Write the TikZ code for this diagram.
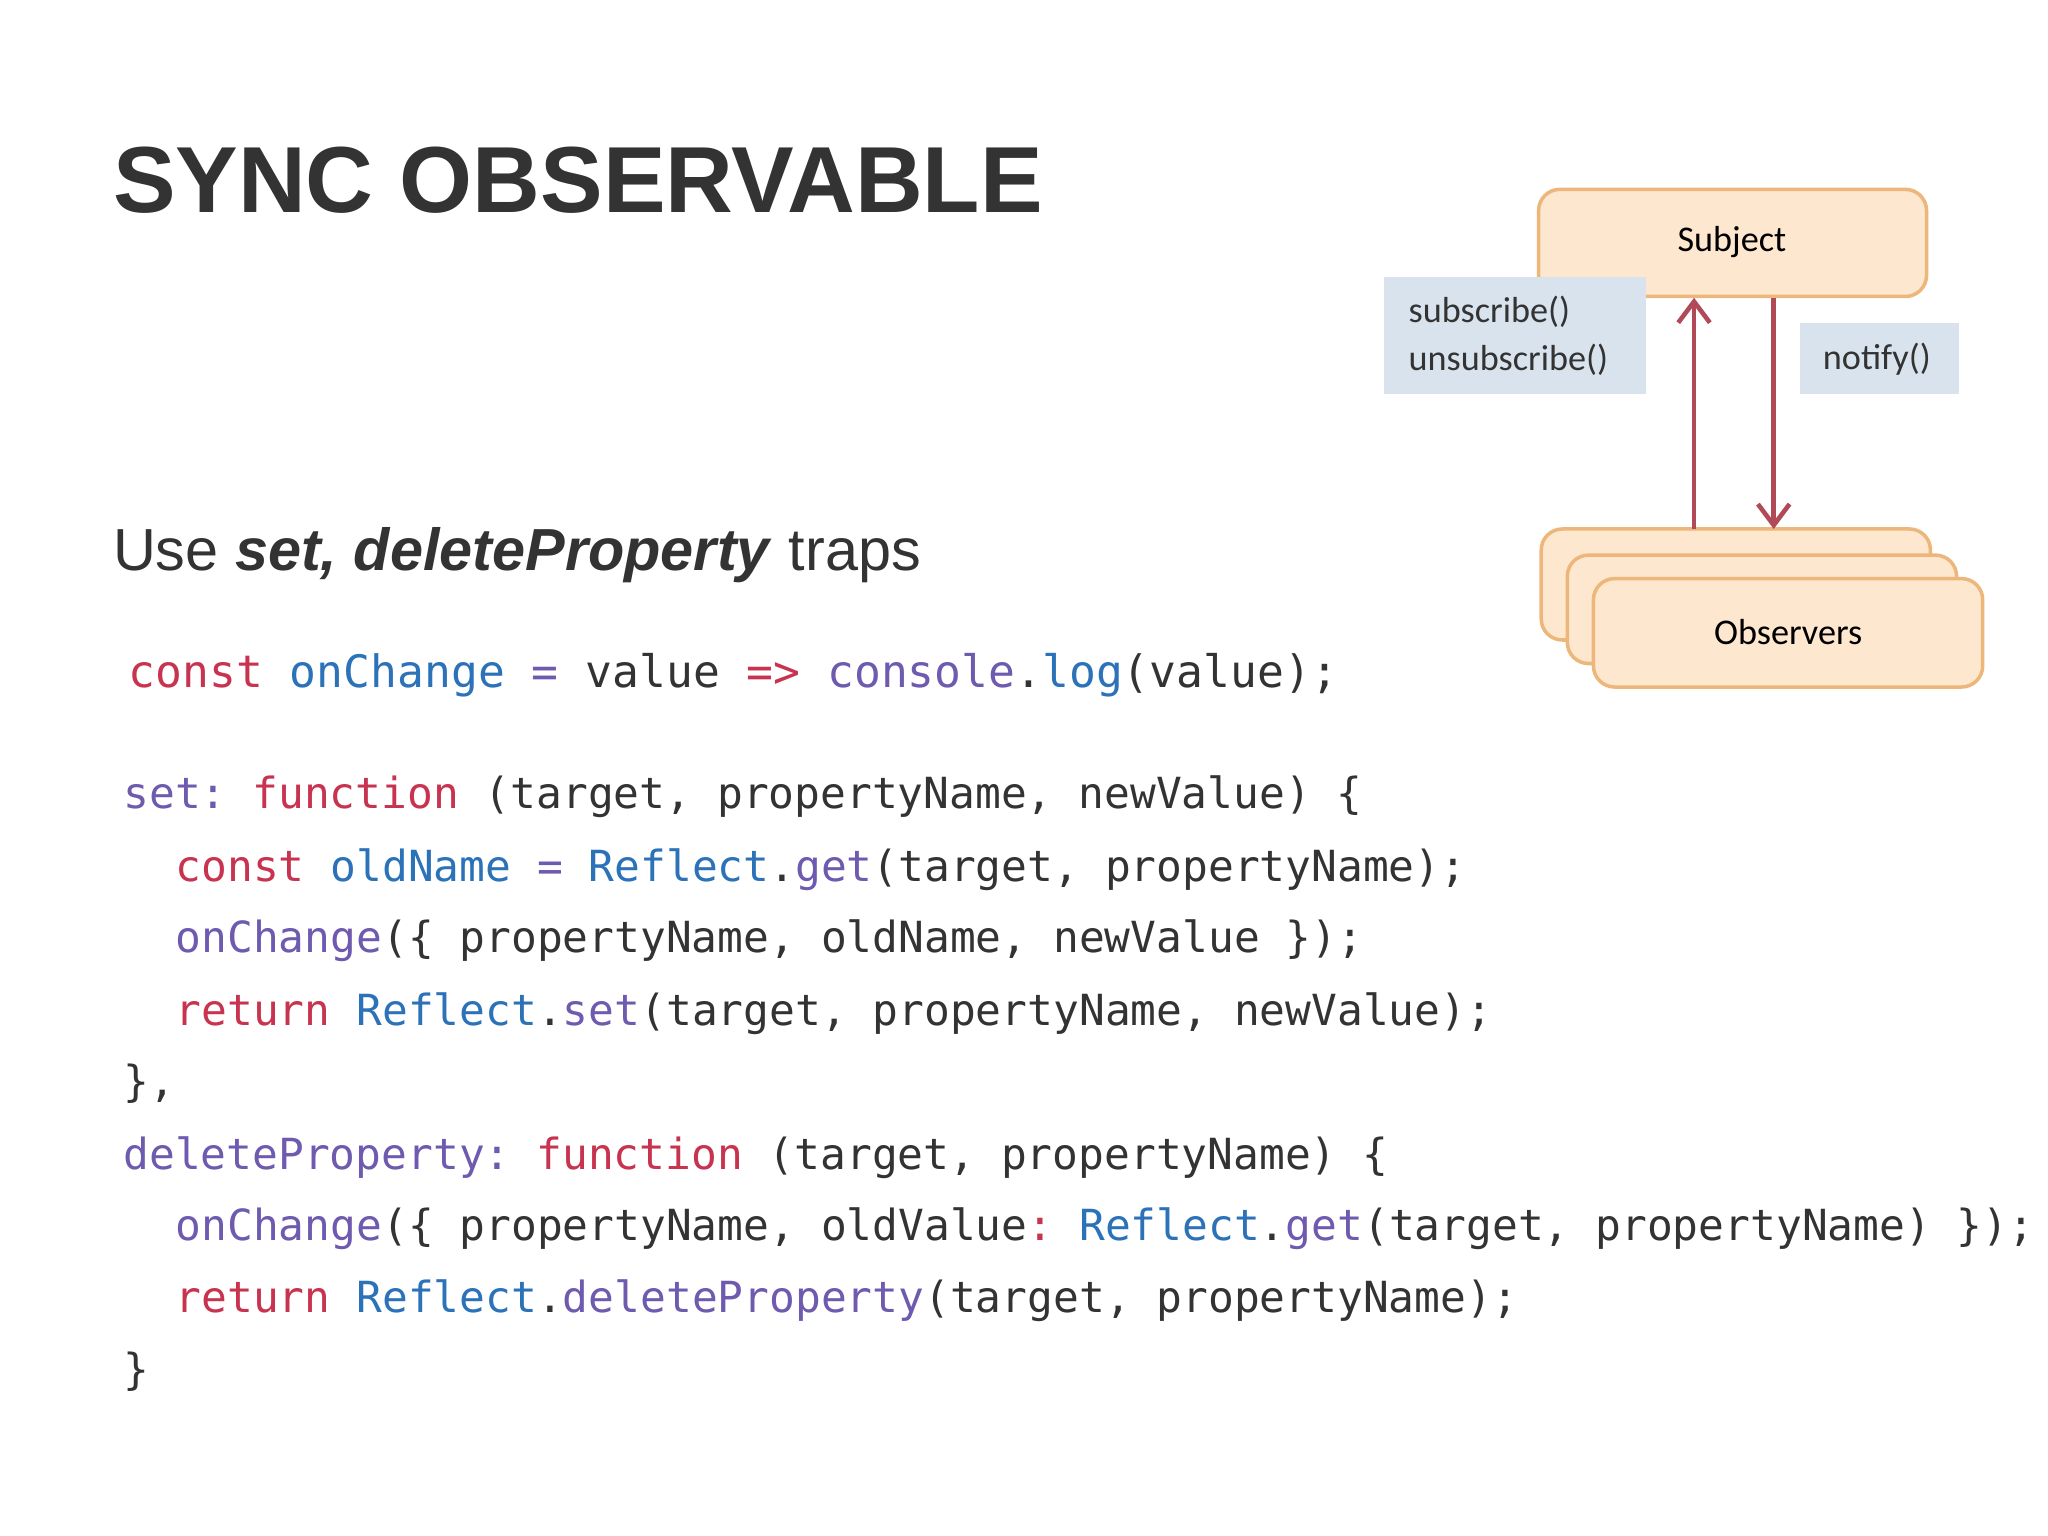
\documentclass[tikz,border=0pt]{standalone}
\usepackage{fontspec}
\setmainfont{Liberation Sans}
\setmonofont{DejaVu Sans Mono}
\newfontfamily\diafont{Carlito}
\usetikzlibrary{arrows.meta}
\definecolor{cred}{HTML}{C8334F}
\definecolor{cblue}{HTML}{2C72B8}
\definecolor{cpurp}{HTML}{6E5AAE}
\definecolor{ctext}{HTML}{333333}
\definecolor{peach}{HTML}{FDE7CF}
\definecolor{peachb}{HTML}{EDB77C}
\definecolor{lblbg}{HTML}{D9E3EE}
\definecolor{arr}{HTML}{B04A57}
\newcommand{\Kr}[1]{\textcolor{cred}{#1}}
\newcommand{\Kb}[1]{\textcolor{cblue}{#1}}
\newcommand{\Kp}[1]{\textcolor{cpurp}{#1}}
\begin{document}
\begin{tikzpicture}[x=0.01306cm,y=-0.01306cm,
  code/.style={anchor=west,inner sep=0pt,font=\ttfamily\fontsize{12.2}{14}\selectfont,text=ctext},
  box/.style={draw=peachb,fill=peach,rounded corners=6pt,line width=1pt},
  lbl/.style={fill=lblbg,inner sep=0pt,font=\diafont\fontsize{10.3}{13.5}\selectfont,text=black!80},
  link/.style={draw=arr,line width=1.3pt,-{Straight Barb[length=6pt,width=9pt]}}]
\useasboundingbox (0,0) rectangle (1568,1176);
\fill[white] (0,0) rectangle (1568,1176);
\node[anchor=west,inner sep=0pt,font=\bfseries\fontsize{26.7}{32}\selectfont,text=ctext] (title) at (86,138) {SYNC OBSERVABLE};
\node[anchor=west,inner sep=0pt,font=\fontsize{16.9}{20}\selectfont,text=ctext] (sub) at (86,425) {Use \textbf{\textit{set, deleteProperty}} traps};
% code
\node[code,font=\ttfamily\fontsize{12.7}{14}\selectfont] (l1) at (98,517) {\Kr{const} \Kb{onChange} \Kp{=} value \Kr{=>} \Kp{console}.\Kb{log}(value);};
\node[code] (l2) at (94,610) {\Kp{set:} \Kr{function} (target, propertyName, newValue) \{};
\node[code] (l3) at (134,666) {\Kr{const} \Kb{oldName} \Kp{=} \Kb{Reflect}.\Kp{get}(target, propertyName);};
\node[code] (l4) at (134,720) {\Kp{onChange}(\{ propertyName, oldName, newValue \});};
\node[code] (l5) at (134,776) {\Kr{return} \Kb{Reflect}.\Kp{set}(target, propertyName, newValue);};
\node[code] (l6) at (94,830) {\},};
\node[code] (l7) at (94,886) {\Kp{deleteProperty:} \Kr{function} (target, propertyName) \{};
\node[code] (l8) at (134,941) {\Kp{onChange}(\{ propertyName, oldValue\Kr{:} \Kb{Reflect}.\Kp{get}(target, propertyName) \});};
\node[code] (l9) at (134,996) {\Kr{return} \Kb{Reflect}.\Kp{deleteProperty}(target, propertyName);};
\node[code] (l10) at (94,1050) {\}};
% diagram
\draw[box] (1178,145) rectangle (1475,227);
\node[font=\diafont\fontsize{10.3}{12}\selectfont] (subj) at (1326,185) {Subject};
\draw[box] (1180,405) rectangle (1478,490);
\draw[box] (1200,425) rectangle (1498,508);
\draw[box] (1220,443) rectangle (1518,526);
\node[font=\diafont\fontsize{10.3}{12}\selectfont] (obs) at (1369,484) {Observers};
\coordinate (ub) at (1297,405); \coordinate (ut) at (1297,228);
\coordinate (dt) at (1358,228); \coordinate (db) at (1358,405);
\draw[link] (ub) -- (ut);
\draw[link] (dt) -- (db);
\fill[lblbg] (1060,212) rectangle (1260,302);
\node[lbl,anchor=west,align=left] (sl) at (1078,257) {subscribe()\\unsubscribe()};
\fill[lblbg] (1378,247) rectangle (1500,302);
\node[lbl] (nl) at (1437,275) {notify()};
\end{tikzpicture}
\end{document}
